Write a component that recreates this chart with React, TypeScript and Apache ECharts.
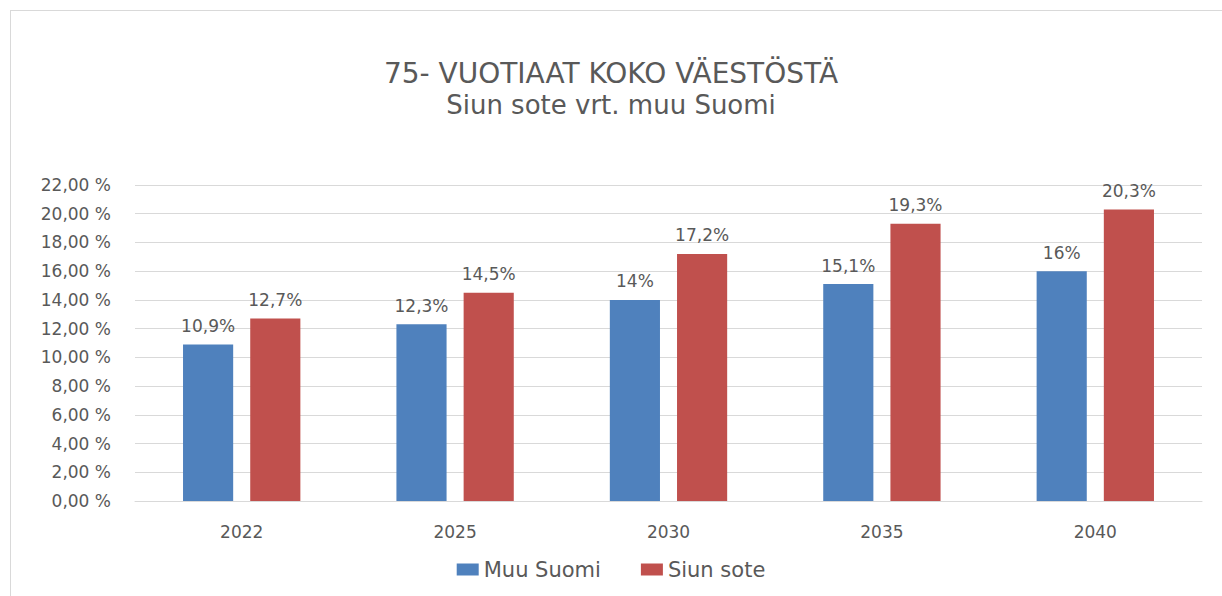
import React, { useEffect, useRef } from "react";
import * as echarts from "echarts";

const categories = ["2022", "2025", "2030", "2035", "2040"];
const muuSuomi = [10.9, 12.3, 14, 15.1, 16];
const siunSote = [12.7, 14.5, 17.2, 19.3, 20.3];
const seriesNames = ["Muu Suomi", "Siun sote"];
const titleLines = ["75- VUOTIAAT KOKO VÄESTÖSTÄ", "Siun sote vrt. muu Suomi"];

const FONT = "'DejaVu Sans', Verdana, sans-serif";
const TXT = "#595959";

export default function App() {
  const ref = useRef<HTMLDivElement>(null);
  useEffect(() => {
    document.body.style.margin = "0";
    const chart = echarts.init(ref.current!, null, { renderer: "svg" });
    const lbl = (v: number) => String(v).replace(".", ",") + "%";
    chart.setOption({
      animation: false,
      backgroundColor: "#ffffff",
      textStyle: { fontFamily: FONT, color: TXT },
      title: {
        text: titleLines[0],
        subtext: titleLines[1],
        left: "center",
        top: 54,
        itemGap: 5,
        textStyle: { fontFamily: FONT, fontSize: 28, fontWeight: "normal", color: TXT },
        subtextStyle: { fontFamily: FONT, fontSize: 26, color: TXT },
      },
      legend: {
        bottom: 11,
        left: "center",
        itemWidth: 22,
        itemHeight: 12,
        itemGap: 40,
        icon: "rect",
        textStyle: { fontFamily: FONT, fontSize: 21, color: TXT },
        data: seriesNames,
      },
      grid: { left: 135, right: 20, top: 185, bottom: 95, containLabel: false },
      xAxis: {
        type: "category",
        data: categories,
        axisLine: { lineStyle: { color: "#d9d9d9" } },
        axisTick: { show: false },
        axisLabel: { color: TXT, fontSize: 17, margin: 22, fontFamily: FONT },
      },
      yAxis: {
        type: "value",
        min: 0,
        max: 22,
        interval: 2,
        axisLine: { show: false },
        axisTick: { show: false },
        splitLine: { lineStyle: { color: "#d9d9d9" } },
        axisLabel: {
          color: TXT,
          fontSize: 17,
          margin: 24,
          fontFamily: FONT,
          formatter: (v: number) => v.toFixed(2).replace(".", ",") + " %",
        },
      },
      series: [
        {
          name: seriesNames[0],
          type: "bar",
          data: muuSuomi,
          barWidth: "23.5%",
          barGap: "34%",
          itemStyle: { color: "#4F81BD" },
          label: { show: true, position: "top", distance: 10, color: TXT, fontSize: 17, fontFamily: FONT, formatter: (p: any) => lbl(p.value) },
        },
        {
          name: seriesNames[1],
          type: "bar",
          data: siunSote,
          barWidth: "23.5%",
          itemStyle: { color: "#C0504D" },
          label: { show: true, position: "top", distance: 10, color: TXT, fontSize: 17, fontFamily: FONT, formatter: (p: any) => lbl(p.value) },
        },
      ],
      graphic: [
        { type: "line", shape: { x1: 10, y1: 10.5, x2: 1222, y2: 10.5 }, style: { stroke: "#d9d9d9", lineWidth: 1 } },
        { type: "line", shape: { x1: 10.5, y1: 10, x2: 10.5, y2: 596 }, style: { stroke: "#d9d9d9", lineWidth: 1 } },
      ],
    });
    return () => chart.dispose();
  }, []);
  return <div ref={ref} style={{ width: 1222, height: 596 }} />;
}
